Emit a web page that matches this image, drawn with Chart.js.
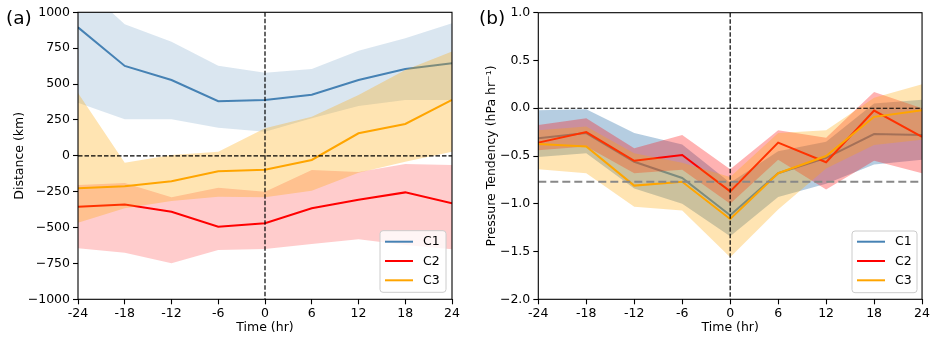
<!DOCTYPE html>
<html>
<head>
<meta charset="utf-8">
<script src="https://cdn.jsdelivr.net/npm/chart.js@4.4.1/dist/chart.umd.min.js"></script>
<style>
  html, body { margin: 0; padding: 0; background: #fff; }
  #wrap { position: relative; width: 932px; height: 337px; overflow: hidden; }
  #wrap canvas { position: absolute; top: 0; }
</style>
</head>
<body>
<div id="wrap">
  <canvas id="chartA" width="466" height="337" style="left:0"></canvas>
  <canvas id="chartB" width="466" height="337" style="left:466px"></canvas>
</div>
<script>
// Hours relative to event time
const hours = [-24, -18, -12, -6, 0, 6, 12, 18, 24];
const seriesNames = ['C1', 'C2', 'C3'];

// (a) Distance (km): mean and spread bounds per group
const distC1   = [895, 626, 528, 380, 389, 426, 528, 605, 645];
const distC1Hi = [1215, 916, 795, 628, 579, 605, 732, 819, 923];
const distC1Lo = [370, 254, 254, 196, 168, 261, 347, 389, 389];
const distC2   = [-355, -339, -390, -494, -470, -366, -306, -255, -331];
const distC2Hi = [-204, -190, -289, -222, -250, -99, -113, -57, -64];
const distC2Lo = [-645, -675, -749, -656, -649, -615, -582, -622, -652];
const distC3   = [-227, -213, -178, -107, -97, -29, 157, 222, 389];
const distC3Hi = [437, -48, 5, 29, 192, 272, 424, 598, 726];
const distC3Lo = [-466, -366, -315, -285, -289, -243, -118, -41, 29];

// (b) Pressure tendency (hPa/hr): mean and spread bounds per group
const presC1   = [-0.315, -0.26, -0.56, -0.73, -1.12, -0.68, -0.52, -0.27, -0.28];
const presC1Hi = [-0.02, -0.01, -0.26, -0.38, -0.78, -0.45, -0.35, 0.05, 0.09];
const presC1Lo = [-0.51, -0.47, -0.84, -1.00, -1.34, -0.93, -0.79, -0.59, -0.54];
const presC2   = [-0.36, -0.25, -0.55, -0.49, -0.87, -0.36, -0.565, -0.025, -0.30];
const presC2Hi = [-0.175, -0.105, -0.42, -0.28, -0.64, -0.23, -0.31, 0.17, 0.0];
const presC2Lo = [-0.44, -0.40, -0.68, -0.645, -1.00, -0.54, -0.85, -0.55, -0.68];
const presC3   = [-0.375, -0.40, -0.81, -0.77, -1.16, -0.68, -0.50, -0.09, -0.02];
const presC3Hi = [-0.23, -0.19, -0.47, -0.57, -0.72, -0.26, -0.23, 0.11, 0.25];
const presC3Lo = [-0.64, -0.68, -1.03, -1.07, -1.56, -1.06, -0.63, -0.385, -0.33];
const presThreshold = -0.77;

// Axis ticks
const xTicks = [-24, -18, -12, -6, 0, 6, 12, 18, 24];
const distTicks = [-1000, -750, -500, -250, 0, 250, 500, 750, 1000];
const presTicks = [-2.0, -1.5, -1.0, -0.5, 0.0, 0.5, 1.0];

const colors = { C1: [70, 130, 180], C2: [255, 0, 0], C3: [255, 165, 0] };
const FONT = 'DejaVu Sans';
const rgba = (c, a) => `rgba(${c[0]},${c[1]},${c[2]},${a})`;
const pts = vals => hours.map((h, i) => ({ x: h, y: vals[i] }));
const minus = s => s.replace('-', '\u2212');

// Band (upper filled down to lower) followed by the mean line; lower order draws on top
function group(name, mean, hi, lo, alpha, rank) {
  const c = colors[name];
  return [
    { label: name + ' upper', data: pts(hi), borderWidth: 0, borderColor: 'transparent',
      pointRadius: 0, fill: '+1', backgroundColor: rgba(c, alpha), order: 10 - 2 * rank },
    { label: name + ' lower', data: pts(lo), borderWidth: 0, borderColor: 'transparent',
      pointRadius: 0, fill: false, order: 10 - 2 * rank },
    { label: name, data: pts(mean), borderColor: rgba(c, 1), borderWidth: 2,
      pointRadius: 0, fill: false, order: 9 - 2 * rank, isSeries: true }
  ];
}

const decorations = {
  id: 'decorations',
  afterDatasetsDraw(chart, args, o) {
    const { ctx, chartArea: a, scales: { x, y } } = chart;
    ctx.save();
    ctx.beginPath(); ctx.rect(a.left, a.top, a.width, a.height); ctx.clip();
    (o.hLines || []).forEach(l => {
      const py = y.getPixelForValue(l.value);
      ctx.strokeStyle = l.color; ctx.lineWidth = l.width; ctx.setLineDash(l.dash);
      ctx.beginPath(); ctx.moveTo(a.left, py); ctx.lineTo(a.right, py); ctx.stroke();
    });
    (o.vLines || []).forEach(l => {
      const px = x.getPixelForValue(l.value);
      ctx.strokeStyle = l.color; ctx.lineWidth = l.width; ctx.setLineDash(l.dash);
      ctx.beginPath(); ctx.moveTo(px, a.top); ctx.lineTo(px, a.bottom); ctx.stroke();
    });
    ctx.restore();
  },
  afterDraw(chart, args, o) {
    const { ctx, chartArea: a } = chart;
    ctx.save();
    // frame
    ctx.strokeStyle = '#000'; ctx.lineWidth = 1.1; ctx.setLineDash([]);
    ctx.strokeRect(a.left, a.top, a.width, a.height);
    // legend
    const L = o.legend;
    ctx.fillStyle = 'rgba(255,255,255,0.8)'; ctx.strokeStyle = '#cccccc'; ctx.lineWidth = 1;
    ctx.beginPath();
    if (ctx.roundRect) ctx.roundRect(L.x, L.y, L.w, L.h, 3); else ctx.rect(L.x, L.y, L.w, L.h);
    ctx.fill(); ctx.stroke();
    const items = chart.data.datasets.filter(d => d.isSeries);
    ctx.font = `12.5px "${FONT}"`; ctx.textBaseline = 'middle'; ctx.textAlign = 'left';
    items.forEach((d, i) => {
      const yy = L.y + L.first + i * L.step;
      ctx.strokeStyle = d.borderColor; ctx.lineWidth = 2;
      ctx.beginPath(); ctx.moveTo(L.x + 5, yy); ctx.lineTo(L.x + 33, yy); ctx.stroke();
      ctx.fillStyle = '#000';
      ctx.fillText(d.label, L.x + 43, yy + 0.5);
    });
    // panel tag
    ctx.font = `18.5px "${FONT}"`; ctx.textBaseline = 'alphabetic'; ctx.fillStyle = '#000';
    ctx.fillText(o.tag.text, o.tag.x, o.tag.y);
    ctx.restore();
  }
};

function makeChart(id, cfg) {
  return new Chart(document.getElementById(id), {
    type: 'line',
    data: { datasets: cfg.datasets },
    plugins: [decorations],
    options: {
      responsive: false, animation: false, devicePixelRatio: 1, events: [],
      layout: { padding: { left: 0, right: cfg.padRight, top: cfg.padTop, bottom: 0 } },
      plugins: {
        legend: { display: false }, tooltip: { enabled: false },
        decorations: cfg.deco
      },
      scales: {
        x: {
          type: 'linear', min: xTicks[0], max: xTicks[xTicks.length - 1],
          afterFit: s => { s.height = 37.7; },
          afterBuildTicks: s => { s.ticks = xTicks.map(v => ({ value: v })); },
          ticks: { callback: v => String(v), color: '#000', padding: 2, maxRotation: 0,
                   autoSkip: false, font: { family: FONT, size: 12.5 } },
          grid: { display: true, drawOnChartArea: false, drawTicks: true, tickLength: 5,
                  tickColor: '#000', tickWidth: 1.1 },
          border: { display: false },
          title: { display: true, text: 'Time (hr)', color: '#000',
                   font: { family: FONT, size: 12.5, lineHeight: 1.2 },
                   padding: { top: 0, bottom: 2 } }
        },
        y: {
          type: 'linear', min: cfg.yTicks[0], max: cfg.yTicks[cfg.yTicks.length - 1],
          afterFit: s => { s.width = cfg.yWidth; },
          afterBuildTicks: s => { s.ticks = cfg.yTicks.map(v => ({ value: v })); },
          ticks: { callback: cfg.yFmt, color: '#000', padding: 3, autoSkip: false,
                   font: { family: FONT, size: 12.5 } },
          grid: { display: true, drawOnChartArea: false, drawTicks: true, tickLength: 5,
                  tickColor: '#000', tickWidth: 1.1 },
          border: { display: false },
          title: { display: true, text: cfg.yTitle, color: '#000',
                   font: { family: FONT, size: 12.5, lineHeight: 1.2 },
                   padding: { top: cfg.yTitlePad, bottom: 0 } }
        }
      }
    }
  });
}

const blackDash = { color: '#000', width: 1.2, dash: [4.5, 2] };

makeChart('chartA', {
  datasets: [
    ...group('C1', distC1, distC1Hi, distC1Lo, 0.2, 0),
    ...group('C2', distC2, distC2Hi, distC2Lo, 0.2, 1),
    ...group('C3', distC3, distC3Hi, distC3Lo, 0.3, 2)
  ],
  yTicks: distTicks, yFmt: v => minus(String(v)), yWidth: 78, yTitle: 'Distance (km)',
  yTitlePad: 12, padRight: 14, padTop: 12.3,
  deco: {
    hLines: [{ value: 0, ...blackDash }],
    vLines: [{ value: 0, ...blackDash }],
    legend: { x: 380, y: 230.7, w: 66, h: 61.6, first: 11, step: 19.3 },
    tag: { text: '(a)', x: 6, y: 23.5 }
  }
});

makeChart('chartB', {
  datasets: [
    ...group('C1', presC1, presC1Hi, presC1Lo, 0.4, 0),
    ...group('C2', presC2, presC2Hi, presC2Lo, 0.3, 1),
    ...group('C3', presC3, presC3Hi, presC3Lo, 0.3, 2)
  ],
  yTicks: presTicks, yFmt: v => minus(Number(v).toFixed(1)), yWidth: 72.3,
  yTitle: 'Pressure Tendency (hPa hr\u207B\u00B9)',
  yTitlePad: 18.5, padRight: 8.7, padTop: 12.7,
  deco: {
    hLines: [{ value: 0, ...blackDash }, { value: presThreshold, color: '#888888', width: 2, dash: [8, 4] }],
    vLines: [{ value: 0, ...blackDash }],
    legend: { x: 386, y: 231, w: 65, h: 61.7, first: 10.7, step: 19.3 },
    tag: { text: '(b)', x: 13, y: 24 }
  }
});
</script>
</body>
</html>
